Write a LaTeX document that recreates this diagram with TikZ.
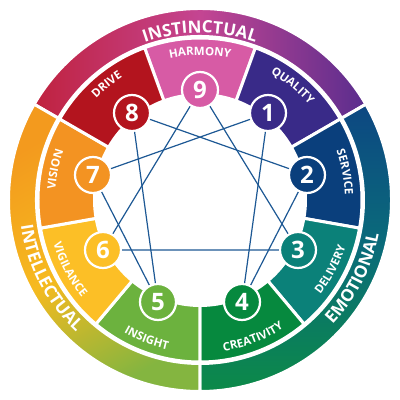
\documentclass[tikz,border=0pt]{standalone}
\usepackage{fontspec}
\setmainfont{Open Sans}
\usetikzlibrary{decorations.text}

\definecolor{nineC}{HTML}{D75BA5}
\definecolor{oneC}{HTML}{392A88}
\definecolor{twoC}{HTML}{0A3F7C}
\definecolor{threeC}{HTML}{0B8179}
\definecolor{fourC}{HTML}{06893E}
\definecolor{fiveC}{HTML}{6CB23E}
\definecolor{sixC}{HTML}{FCBF26}
\definecolor{sevenC}{HTML}{F39322}
\definecolor{eightC}{HTML}{B3141E}
\definecolor{linkC}{HTML}{1D5894}
\definecolor{instA}{HTML}{C0223F}
\definecolor{instB}{HTML}{C44592}
\definecolor{instC}{HTML}{5A2D8E}
\definecolor{emoA}{HTML}{0D4782}
\definecolor{emoB}{HTML}{0A6C7A}
\definecolor{emoC}{HTML}{0C8A48}
\definecolor{intA}{HTML}{F39A1E}
\definecolor{intB}{HTML}{F6BA1F}
\definecolor{intC}{HTML}{84B540}

% annular piece: start angle, end angle, outer radius, inner radius
\newcommand{\ringpart}[4]{(#1:#3) arc[start angle=#1, end angle=#2, radius=#3] -- (#2:#4) arc[start angle=#2, end angle=#1, radius=#4] -- cycle}
\newcommand{\seglabel}{\color{white}\bfseries\fontsize{11.5}{12}\selectfont}
\newcommand{\bandlabel}{\color{white}\bfseries\fontsize{17}{17}\selectfont}
% text over the top (clockwise) and under the bottom (counterclockwise)
\newcommand{\toptext}[4]{\path[decorate, decoration={text along path, text align=center, text={|#4|#3}}] ({#1+35}:#2) arc[start angle=#1+35, end angle=#1-35, radius=#2];}
\newcommand{\bottext}[4]{\path[decorate, decoration={text along path, text align=center, text={|#4|#3}}] ({#1-35}:#2) arc[start angle=#1-35, end angle=#1+35, radius=#2];}

\tikzset{
  seg/.style={draw=white, line width=3pt},
  num/.style={circle, draw=white, line width=2.2pt, minimum size=36pt, inner sep=0pt,
    text=white, font=\bfseries\fontsize{24}{24}\selectfont},
  link/.style={draw=linkC, line width=1.2pt}
}

\begin{document}
\begin{tikzpicture}[x=1pt, y=1pt]
  \useasboundingbox (-200,-200) rectangle (200,200);
  % outer bands
  \shadedraw[seg, left color=instA, right color=instC, middle color=instB] \ringpart{150}{30}{191.5}{163.5};
  \shadedraw[seg, top color=emoA, bottom color=emoC, middle color=emoB] \ringpart{30}{-90}{191.5}{163.5};
  \shadedraw[seg, top color=intA, bottom color=intC, middle color=intB, shading angle=30] \ringpart{270}{150}{191.5}{163.5};
  % segments
  \filldraw[seg, fill=nineC]  \ringpart{110}{70}{162}{105.5};
  \filldraw[seg, fill=oneC]   \ringpart{70}{30}{162}{105.5};
  \filldraw[seg, fill=twoC]   \ringpart{30}{-10}{162}{105.5};
  \filldraw[seg, fill=threeC] \ringpart{-10}{-50}{162}{105.5};
  \filldraw[seg, fill=fourC]  \ringpart{-50}{-90}{162}{105.5};
  \filldraw[seg, fill=fiveC]  \ringpart{-90}{-130}{162}{105.5};
  \filldraw[seg, fill=sixC]   \ringpart{-130}{-170}{162}{105.5};
  \filldraw[seg, fill=sevenC] \ringpart{190}{150}{162}{105.5};
  \filldraw[seg, fill=eightC] \ringpart{150}{110}{162}{105.5};
  % band titles
  \toptext{90}{167}{INSTINCTUAL}{\bandlabel}
  \bottext{-27}{182}{EMOTIONAL}{\bandlabel}
  \bottext{-152.5}{181}{INTELLECTUAL}{\bandlabel}
  % segment titles
  \toptext{90}{145}{HARMONY}{\seglabel}
  \toptext{51}{145}{QUALITY}{\seglabel}
  \toptext{11}{145}{SERVICE}{\seglabel}
  \toptext{168}{145}{VISION}{\seglabel}
  \toptext{129}{145}{DRIVE}{\seglabel}
  \bottext{-28}{153}{DELIVERY}{\seglabel}
  \bottext{-69}{153}{CREATIVITY}{\seglabel}
  \bottext{-111}{153}{INSIGHT}{\seglabel}
  \bottext{-152}{153}{VIGILANCE}{\seglabel}
  % the nine points
  \node[num, fill=nineC]  (n9) at (0,110)    {9};
  \node[num, fill=oneC]   (n1) at (68,87)    {1};
  \node[num, fill=twoC]   (n2) at (107,25)   {2};
  \node[num, fill=threeC] (n3) at (98,-50)   {3};
  \node[num, fill=fourC]  (n4) at (42,-102)  {4};
  \node[num, fill=fiveC]  (n5) at (-42,-102) {5};
  \node[num, fill=sixC]   (n6) at (-97,-50)  {6};
  \node[num, fill=sevenC] (n7) at (-107,25)  {7};
  \node[num, fill=eightC] (n8) at (-68,87)   {8};
  % inner lines
  \draw[link] (n9) -- (n3) -- (n6) -- (n9);
  \draw[link] (n1) -- (n4) -- (n2) -- (n8) -- (n5) -- (n7) -- (n1);
\end{tikzpicture}
\end{document}
